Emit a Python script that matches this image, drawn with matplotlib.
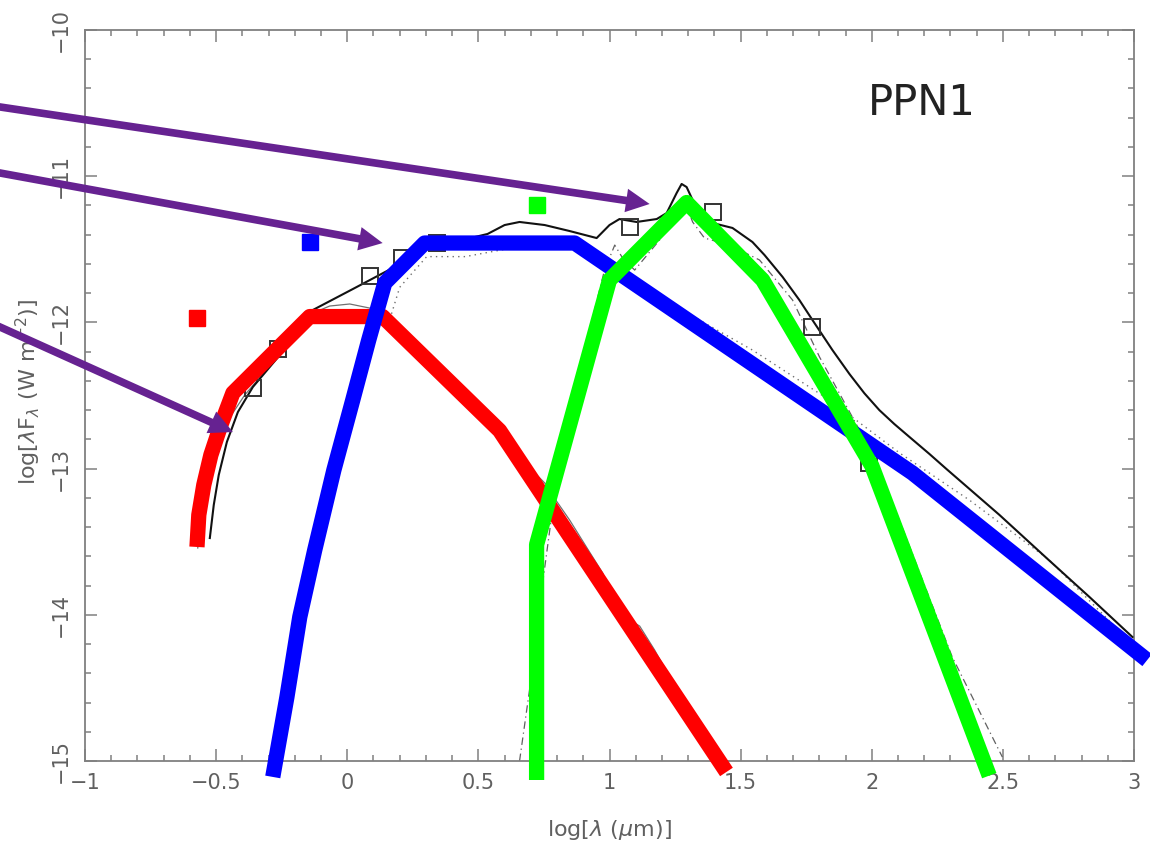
import matplotlib
matplotlib.use("Agg")
import matplotlib.pyplot as plt
from matplotlib.patches import FancyArrowPatch
from matplotlib.ticker import MultipleLocator

# ---- observed photometry (open squares) ----
obs_logl = [-0.36, -0.265, 0.086, 0.208, 0.341, 1.077, 1.393, 1.774, 1.99]
obs_logf = [-12.45, -12.18, -11.68, -11.56, -11.46, -11.35, -11.245, -12.03, -12.96]

# ---- model SED: total (solid black) ----
tot_logl = [-0.524, -0.509, -0.490, -0.459, -0.417, -0.360, -0.257, -0.131, 0.021,
            0.173, 0.250, 0.391, 0.535, 0.600, 0.657, 0.753, 0.848, 0.951, 1.000,
            1.038, 1.103, 1.180, 1.218, 1.256, 1.275, 1.294, 1.317, 1.343, 1.393,
            1.469, 1.545, 1.591, 1.660, 1.724, 1.774, 1.850, 1.915, 1.972, 2.029,
            2.086, 2.144, 2.220, 2.285, 2.487, 2.666, 2.830, 2.994]
tot_logf = [-13.475, -13.249, -13.044, -12.818, -12.613, -12.442, -12.223, -11.915,
            -11.772, -11.628, -11.525, -11.457, -11.395, -11.334, -11.313, -11.334,
            -11.375, -11.423, -11.334, -11.293, -11.313, -11.293, -11.252, -11.115,
            -11.053, -11.074, -11.163, -11.286, -11.320, -11.354, -11.450, -11.539,
            -11.689, -11.847, -11.984, -12.189, -12.353, -12.485, -12.600, -12.695,
            -12.784, -12.900, -13.003, -13.317, -13.611, -13.878, -14.152]

# ---- model components ----
star_logl = [-0.570, -0.551, -0.516, -0.467, -0.391, -0.276, -0.131, -0.067, 0.0095,
             0.086, 0.162, 0.276, 0.372, 0.410, 0.436, 0.467, 0.505, 0.581, 0.657,
             0.734, 0.772, 0.795, 0.848, 0.924, 0.974, 1.000, 1.077, 1.115, 1.172,
             1.210, 1.343, 1.446]
star_logf = [-13.543, -13.215, -12.941, -12.702, -12.497, -12.257, -11.936, -11.888,
             -11.874, -11.902, -11.997, -12.189, -12.360, -12.476, -12.531, -12.558,
             -12.599, -12.750, -12.941, -13.064, -13.133, -13.215, -13.352, -13.571,
             -13.714, -13.830, -14.036, -14.077, -14.241, -14.364, -14.788, -15.075]

hot_logl = [0.15, 0.200, 0.303, 0.45, 0.60, 0.867, 1.020, 1.343, 1.545,
            1.839, 2.106, 2.372, 2.677, 2.997]
hot_logf = [-12.05, -11.76, -11.55, -11.55, -11.50, -11.47, -11.628,
            -11.984, -12.189, -12.531, -12.893, -13.215, -13.625, -14.207]

dust_logl = [0.657, 0.695, 0.745, 0.798, 0.905, 0.981, 1.020, 1.050, 1.096, 1.191,
             1.240, 1.282, 1.317, 1.362, 1.458, 1.572, 1.698, 1.801, 1.953, 2.105,
             2.307, 2.498]
dust_logf = [-15.0, -14.515, -13.783, -13.078, -12.189, -11.642, -11.471, -11.560,
             -11.642, -11.436, -11.265, -11.149, -11.313, -11.423, -11.471, -11.573,
             -11.847, -12.237, -12.736, -13.352, -14.289, -14.973]

# ---- schematic component shapes (thick coloured lines) ----
red_logl = [-0.573, -0.566, -0.547, -0.520, -0.482, -0.436, -0.143, 0.135, 0.581, 1.446]
red_logf = [-13.536, -13.317, -13.112, -12.907, -12.702, -12.483, -11.96, -11.96,
            -12.74, -15.075]

blue_logl = [-0.284, -0.230, -0.181, -0.124, -0.051, 0.021, 0.082, 0.143, 0.295,
             0.867, 2.155, 3.05]
blue_logf = [-15.109, -14.562, -14.015, -13.557, -13.010, -12.531, -12.120, -11.731,
             -11.457, -11.457, -13.03, -14.31]

green_logl = [0.722, 0.722, 1.0, 1.294, 1.584, 2.0, 2.448]
green_logf = [-15.13, -13.52, -11.71, -11.18, -11.71, -12.98, -15.10]

# ---- filled squares marking each component ----
key_logl = [-0.573, -0.143, 0.722]
key_logf = [-11.97, -11.45, -11.20]
key_colors = ["#ff0000", "#0000ff", "#00ff00"]

# ---- arrows (tail -> head) ----
arrow_tail = [(-1.40, -10.506), (-1.40, -10.953), (-1.40, -11.970)]
arrow_head = [(1.153, -11.190), (0.135, -11.457), (-0.436, -12.750)]

label_text = "PPN1"

fig = plt.figure(figsize=(11.5, 8.48), dpi=100)
ax = fig.add_axes([0.0739, 0.1026, 0.9122, 0.862])
ax.set_xlim(-1, 3)
ax.set_ylim(-15, -10)

axis_gray = "#808080"
text_gray = "#606060"
for sp in ax.spines.values():
    sp.set_color(axis_gray)
    sp.set_linewidth(1.3)

ax.xaxis.set_major_locator(MultipleLocator(0.5))
ax.xaxis.set_minor_locator(MultipleLocator(0.1))
ax.yaxis.set_major_locator(MultipleLocator(1))
ax.yaxis.set_minor_locator(MultipleLocator(0.2))
ax.tick_params(which="both", direction="in", top=True, right=True,
               color=axis_gray, width=1.1)
ax.tick_params(which="major", length=8.5)
ax.tick_params(which="minor", length=4.3)
ax.tick_params(axis="x", which="major", labelsize=15, labelcolor=text_gray, pad=9)
ax.tick_params(axis="y", which="major", labelsize=15, labelcolor=text_gray, pad=10)
ax.set_xticks([-1, -0.5, 0, 0.5, 1, 1.5, 2, 2.5, 3])
ax.set_xticklabels(["\u22121", "\u22120.5", "0", "0.5", "1", "1.5", "2", "2.5", "3"])
ax.set_yticks([-15, -14, -13, -12, -11, -10])
ax.set_yticklabels(["\u221215", "\u221214", "\u221213", "\u221212", "\u221211", "\u221210"])
for lab in ax.get_yticklabels():
    lab.set_rotation(90)
    lab.set_va("center")

ax.set_xlabel(r"log[$\lambda$ ($\mu$m)]", fontsize=16, color=text_gray)
ax.set_ylabel(r"log[$\lambda$F$_\lambda$ (W m$^{-2}$)]", fontsize=16, color=text_gray)
ax.xaxis.set_label_coords(0.5, -0.078)
ax.yaxis.set_label_coords(-0.040, 0.505)

# model curves
ax.plot(star_logl, star_logf, color="#707070", lw=0.9, zorder=2)
ax.plot(hot_logl, hot_logf, color="#707070", lw=1.0, ls=(0, (1, 3)), zorder=2)
ax.plot(dust_logl, dust_logf, color="#606060", lw=0.9, ls=(0, (6, 3, 1, 3)), zorder=2)
ax.plot(tot_logl, tot_logf, color="#111111", lw=1.5, zorder=3,
        solid_joinstyle="round")

# photometry
ax.plot(obs_logl, obs_logf, ls="none", marker="s", ms=12, mfc="none",
        mec="#333333", mew=1.4, zorder=4)

# component shapes
common = dict(lw=11, solid_joinstyle="round", solid_capstyle="butt", clip_on=False)
ax.plot(red_logl, red_logf, color="#ff0000", zorder=5, **common)
ax.plot(blue_logl, blue_logf, color="#0000ff", zorder=6, **common)
ax.plot(green_logl, green_logf, color="#00ff00", zorder=7, **common)

for xk, yk, ck in zip(key_logl, key_logf, key_colors):
    ax.plot([xk], [yk], ls="none", marker="s", ms=11.5, mfc=ck, mec=ck, zorder=8)

for (x0, y0), (x1, y1) in zip(arrow_tail, arrow_head):
    arr = FancyArrowPatch((x0, y0), (x1, y1),
                          arrowstyle="simple,head_length=17,head_width=17,tail_width=5.5",
                          mutation_scale=1, color="#662291", lw=0,
                          shrinkA=0, shrinkB=0, clip_on=False, zorder=9)
    ax.add_patch(arr)

ax.text(2.19, -10.5, label_text, fontsize=30, color="#222222",
        ha="center", va="center", family="DejaVu Sans")

fig.savefig("out.png", dpi=100)
